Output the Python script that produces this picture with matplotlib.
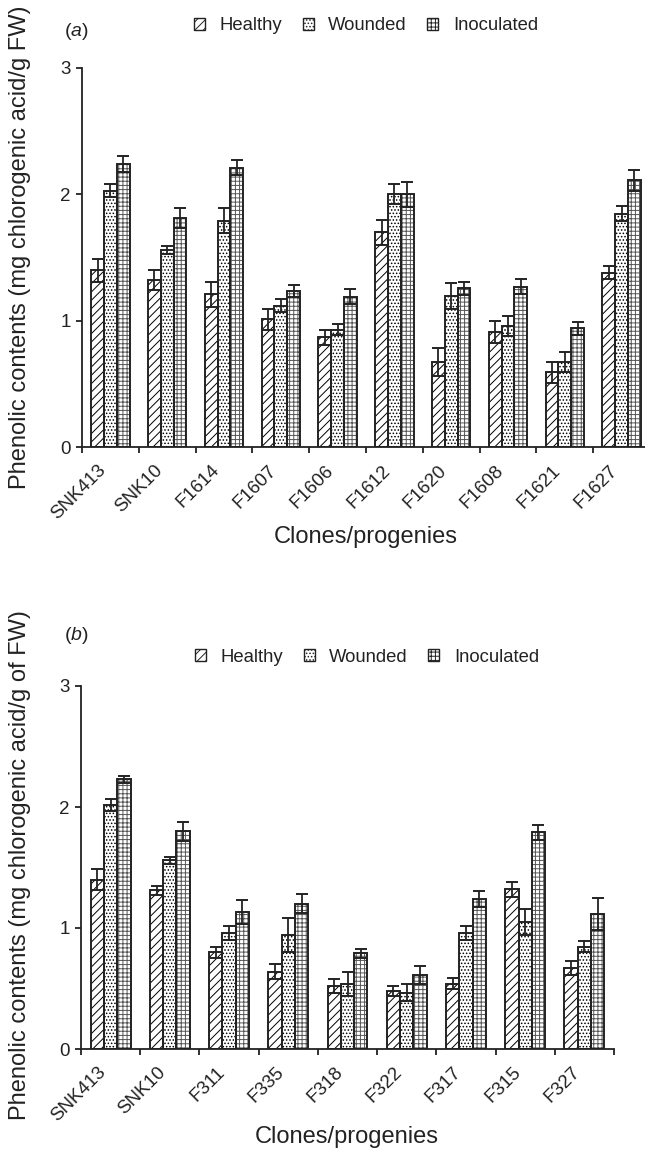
import numpy as np
import matplotlib
matplotlib.use("Agg")
import matplotlib.pyplot as plt
import matplotlib.transforms as mtransforms
from matplotlib.patches import Patch

plt.rcParams['font.family'] = ['Liberation Sans', 'DejaVu Sans']
plt.rcParams['mathtext.fontset'] = 'custom'
plt.rcParams['mathtext.rm'] = 'Liberation Sans'
plt.rcParams['mathtext.it'] = 'Liberation Sans:italic'
plt.rcParams['hatch.linewidth'] = 0.7

#### Data, panel (a)
clones_a = ["SNK413", "SNK10", "F1614", "F1607", "F1606", "F1612", "F1620", "F1608", "F1621", "F1627"]
healthy_a = [1.40, 1.32, 1.21, 1.01, 0.87, 1.70, 0.67, 0.91, 0.59, 1.38]
healthy_a_err = [0.09, 0.08, 0.10, 0.08, 0.06, 0.10, 0.11, 0.09, 0.08, 0.05]
wounded_a = [2.03, 1.56, 1.79, 1.12, 0.93, 2.00, 1.195, 0.96, 0.675, 1.845]
wounded_a_err = [0.05, 0.03, 0.10, 0.05, 0.04, 0.08, 0.10, 0.08, 0.08, 0.06]
inoc_a = [2.24, 1.81, 2.21, 1.235, 1.19, 2.00, 1.255, 1.27, 0.94, 2.11]
inoc_a_err = [0.06, 0.08, 0.06, 0.05, 0.06, 0.10, 0.05, 0.06, 0.05, 0.08]

#### Data, panel (b)
clones_b = ["SNK413", "SNK10", "F311", "F335", "F318", "F322", "F317", "F315", "F327"]
healthy_b = [1.40, 1.31, 0.80, 0.64, 0.52, 0.48, 0.54, 1.32, 0.67]
healthy_b_err = [0.09, 0.04, 0.045, 0.06, 0.06, 0.04, 0.045, 0.06, 0.06]
wounded_b = [2.02, 1.56, 0.96, 0.94, 0.54, 0.465, 0.96, 1.05, 0.845]
wounded_b_err = [0.05, 0.03, 0.06, 0.14, 0.10, 0.07, 0.06, 0.11, 0.045]
inoc_b = [2.23, 1.80, 1.13, 1.20, 0.79, 0.61, 1.24, 1.79, 1.115]
inoc_b_err = [0.03, 0.08, 0.10, 0.08, 0.04, 0.075, 0.065, 0.06, 0.13]

treatments = ["Healthy", "Wounded", "Inoculated"]
hatches = ["////", ".....", "++++"]
hatch_colors = ["black", "black", "#555555"]
ink = '#222222'

W, H = 645, 1150
fig = plt.figure(figsize=(W / 100, H / 100), dpi=100)

def px_axes(left, right, top, bottom):
	return fig.add_axes([left / W, 1 - bottom / H, (right - left) / W, (bottom - top) / H])

def draw_panel(ax, clones, series, errs, xmax):
	n = len(clones)
	x = np.arange(n) + 0.5
	width = 0.225
	offsets = [-width, 0, width]
	for vals, err, off, hat, hc in zip(series, errs, offsets, hatches, hatch_colors):
		ax.bar(x + off, vals, width, color='white', edgecolor=hc, hatch=hat, linewidth=0, zorder=1)
		ax.bar(x + off, vals, width, fill=False, edgecolor=ink, linewidth=1.4, zorder=2)
		ax.errorbar(x + off, vals, yerr=err, fmt='none', ecolor=ink, elinewidth=1.3,
			capsize=4.3, capthick=1.4, zorder=3)
	ax.set_xlim(0, xmax)
	ax.set_ylim(0, 3)
	ax.set_yticks([0, 1, 2, 3])
	ax.set_xticks(np.arange(0, n + 1))
	ax.set_xticklabels([])
	ax.set_xticks(x, clones, minor=True)
	ax.tick_params(axis='x', which='minor', length=0, pad=15)
	shift = mtransforms.ScaledTranslation(-7 / 100, 0, fig.dpi_scale_trans)
	for lab in ax.get_xticklabels(minor=True):
		lab.set_rotation(45)
		lab.set_ha('right')
		lab.set_va('center')
		lab.set_rotation_mode('anchor')
		lab.set_transform(lab.get_transform() + shift)
	ax.tick_params(axis='both', which='major', direction='out', length=4.5, width=1.3,
		labelsize=13.5, colors=ink)
	ax.tick_params(axis='x', which='minor', labelsize=13.5, labelcolor=ink)
	for s in ['top', 'right']:
		ax.spines[s].set_visible(False)
	for s in ['left', 'bottom']:
		ax.spines[s].set_linewidth(1.3)
		ax.spines[s].set_color(ink)

def legend_at(xc, yc):
	handles = [Patch(facecolor='white', edgecolor=ink, hatch=h, linewidth=1.0) for h in hatches]
	fig.legend(handles, treatments, loc='center', bbox_to_anchor=(xc / W, 1 - yc / H), ncol=3,
		frameon=False, fontsize=13.3, handlelength=0.6, handleheight=0.6,
		handletextpad=0.8, columnspacing=1.1, labelcolor=ink)

#### Panel (a)
ax1 = px_axes(82, 650, 68, 447)
draw_panel(ax1, clones_a, [healthy_a, wounded_a, inoc_a],
	[healthy_a_err, wounded_a_err, inoc_a_err], 10)
legend_at(366, 26)
fig.text(64 / W, 1 - 32 / H, r'($\it{a}$)', fontsize=14, ha='left', va='center', color=ink)
fig.text(20 / W, 1 - 247 / H, "Phenolic contents (mg chlorogenic acid/g FW)", rotation=90,
	fontsize=17, ha='center', va='center', color=ink)
fig.text(366 / W, 1 - 537 / H, "Clones/progenies", fontsize=17, ha='center', va='center', color=ink)

#### Panel (b)
ax2 = px_axes(81, 614, 686, 1049)
draw_panel(ax2, clones_b, [healthy_b, wounded_b, inoc_b],
	[healthy_b_err, wounded_b_err, inoc_b_err], 9)
legend_at(367, 657)
fig.text(64 / W, 1 - 635 / H, r'($\it{b}$)', fontsize=14, ha='left', va='center', color=ink)
fig.text(20 / W, 1 - 865 / H, "Phenolic contents (mg chlorogenic acid/g of FW)", rotation=90,
	fontsize=17, ha='center', va='center', color=ink)
fig.text(347 / W, 1 - 1137 / H, "Clones/progenies", fontsize=17, ha='center', va='center', color=ink)

fig.savefig("out.png", dpi=100)
